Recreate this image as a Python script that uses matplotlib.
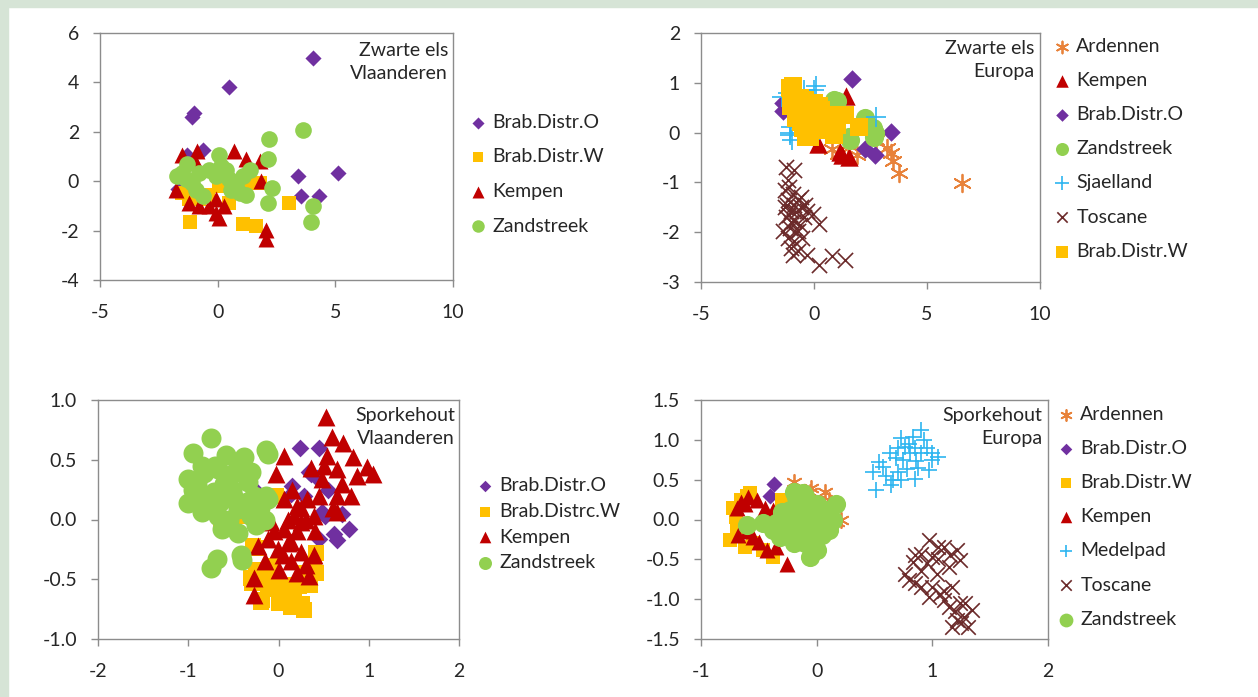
import matplotlib
matplotlib.use("Agg")
import matplotlib.pyplot as plt
from matplotlib.patches import Rectangle

# ---- data ----
# Zwarte els, Vlaanderen
zv_brabo_x = [4.07, 0.5, -1.0, -1.1, -0.64, -1.3, 3.43, 5.1, 3.53, 4.29, -1.7]
zv_brabo_y = [4.98, 3.83, 2.75, 2.6, 1.26, 1.05, 0.2, 0.34, -0.61, -0.6, -0.3]
zv_brabw_x = [-1.19, 1.07, 1.64, 3.04, 1.79, 0.07, -0.79, -1.21, 0.5, 1.36, -1.5, -0.43, 0.9]
zv_brabw_y = [-1.66, -1.72, -1.82, -0.9, -0.07, -0.2, -0.74, -0.74, -0.88, -0.07, -0.47, -0.54, -0.3]
zv_kempen_x = [0.71, -0.86, -1.5, 1.79, 1.86, 2.07, 2.07, -0.07, 0.07, -0.36, -0.79, -1.21, -0.07,
               1.21, -1.79, 0.29, -1.0]
zv_kempen_y = [1.22, 1.22, 1.08, 0.81, 0.0, -1.96, -2.36, -1.28, -1.5, -1.01, -1.01, -0.88, -0.74,
               0.88, -0.34, -1.01, 0.9]
zv_zand_x = [3.64, 2.19, 2.14, 2.29, 2.14, 4.04, 3.97, -1.71, -1.29, -1.36, -0.93, -0.64, -0.79,
             -0.36, 0.07, 0.14, -0.07, 0.5, 0.57, 0.93, 1.21, 1.36, 1.07, 0.79, -1.07, -1.5, 0.36]
zv_zand_y = [2.07, 1.72, 0.88, -0.27, -0.9, -1.01, -1.66, 0.2, 0.68, 0.07, -0.34, -0.61, 0.34,
             0.47, 1.08, 0.61, 0.2, 0.07, -0.34, -0.47, -0.54, 0.47, 0.2, -0.2, -0.07, 0.34, 0.47]

# Zwarte els, Europa
ze_arden_x = [6.57, 3.41, 3.5, 3.78, 3.23, 0.8, 1.91, 2.74, 1.08, 1.5]
ze_arden_y = [-1.02, -0.4, -0.58, -0.82, -0.3, -0.32, -0.45, -0.15, -0.42, -0.25]
ze_kempen_x = [1.42, 0.94, 0.17, 1.22, 1.56, 1.14]
ze_kempen_y = [0.73, 0.6, -0.23, -0.45, -0.49, -0.38]
ze_brabo_x = [1.66, 3.41, 2.26, 2.72, -1.35, 1.0, -1.35]
ze_brabo_y = [1.08, 0.02, -0.32, -0.45, 0.43, 0.6, 0.6]
ze_zand_x = [1.01, 1.56, 2.26, 2.6, 2.67, 0.88, 1.58, 2.71]
ze_zand_y = [0.63, -0.08, 0.29, 0.09, -0.08, 0.66, -0.15, -0.01]
ze_sjael_x = [0.1, -0.45, -1.15, 2.74, -1.08, -1.01, 0.24, -1.05, -0.96, 0.26, 0.0, -1.4, -0.2]
ze_sjael_y = [0.93, 0.86, 0.8, 0.32, -0.05, 0.12, 0.05, -0.01, -0.15, 0.09, 0.86, 0.72, 0.5]
ze_tosc_x = [-1.22, -0.87, -1.15, -1.28, -0.94, -1.15, -0.73, -1.28, -1.01, -0.59, -0.31, -0.03,
             -1.22, -0.87, -0.45, 0.24, -1.08, -0.73, -1.15, -0.87, -0.52, -1.01, -0.73, -0.31,
             0.24, 0.8, 1.36, -0.59, -1.35, -1.1, -0.9, -0.8, -1.0, -0.6, -1.2, -0.4, -0.8,
             -1.1, -0.95]
ze_tosc_y = [-0.69, -0.76, -0.96, -1.16, -1.23, -1.36, -1.36, -1.5, -1.57, -1.5, -1.57, -1.64,
             -1.7, -1.77, -1.7, -1.84, -1.91, -1.97, -2.11, -2.18, -2.11, -2.31, -2.38, -2.45,
             -2.65, -2.48, -2.55, -1.3, -1.97, -1.1, -1.45, -1.6, -1.8, -1.85, -1.45, -1.45,
             -2.0, -1.65, -2.45]
ze_brabw_x = [-0.94, -0.94, -0.73, -0.31, 0.24, 0.52, 0.94, 1.35, 1.98, 0.87, -0.17, -0.59, -1.0,
              -0.03, -1.05, -0.35, 1.31, 0.5, -0.6, -0.7, -0.4, 0.0, 0.3, 0.7, -0.8, -0.2, 0.2,
              1.0, -0.5]
ze_brabw_y = [0.93, 0.73, 0.46, 0.46, 0.53, 0.32, 0.36, 0.36, 0.12, -0.05, -0.08, 0.22, 0.53,
              0.26, 0.89, -0.08, 0.36, 0.05, 0.7, 0.7, 0.65, 0.6, 0.45, 0.2, 0.3, 0.3, 0.1,
              0.15, 0.1]

# Sporkehout, Vlaanderen
sv_brabo_x = [0.24, 0.45, 0.34, 0.43, -0.25, 0.15, 0.48, 0.78, 0.61, 0.28, 0.65, 0.45, 0.52, 0.14,
              0.36, 0.55, 0.7]
sv_brabo_y = [0.6, 0.6, 0.4, 0.35, 0.24, 0.28, 0.06, -0.08, -0.12, 0.2, -0.17, -0.16, 0.03, 0.21,
              0.38, 0.25, 0.05]
sv_brabw_x = [-0.64, -0.25, -0.25, -0.29, -0.18, 0.14, 0.28, 0.41, 0.41, -0.03, 0.06, 0.23, -0.07,
              -0.38, -0.03, -0.28, -0.3, -0.12, 0.03, 0.17, 0.26, 0.39, -0.19, -0.1, 0.1, 0.0,
              0.35, 0.3, -0.2]
sv_brabw_y = [-0.04, -0.24, -0.42, -0.53, -0.67, -0.73, -0.76, -0.45, -0.28, -0.5, -0.62, -0.56,
              -0.39, 0.03, 0.2, -0.22, -0.49, -0.58, -0.6, -0.69, -0.71, -0.38, -0.69, -0.55,
              -0.55, -0.7, -0.55, -0.45, -0.5]
sv_kempen_x = [0.53, 0.59, 0.06, -0.03, 0.36, 0.72, 0.83, 0.98, 1.05, 0.87, 0.54, 0.65, 0.48, 0.65,
               0.65, 0.45, 0.32, 0.21, 0.06, -0.08, 0.06, 0.25, 0.39, -0.12, -0.01, 0.14, 0.25,
               -0.23, 0.39, 0.3, 0.01, 0.34, -0.27, -0.27, 0.14, 0.17, 0.1, 0.2, 0.15, 0.3, 0.05,
               0.2, -0.05, 0.1, 0.5, 0.7, 0.6, 0.8, 0.4, -0.15, 0.25]
sv_kempen_y = [0.86, 0.69, 0.53, 0.38, 0.43, 0.64, 0.52, 0.44, 0.38, 0.36, 0.53, 0.42, 0.34, 0.2,
               0.06, 0.2, 0.17, 0.11, 0.17, -0.02, -0.08, -0.02, 0.03, -0.16, -0.25, -0.19, -0.27,
               -0.22, -0.3, -0.38, -0.42, -0.47, -0.49, -0.63, -0.35, 0.03, 0.0, -0.1, 0.25, 0.0,
               -0.3, -0.45, -0.1, -0.2, 0.45, 0.3, 0.1, 0.2, -0.1, -0.35, 0.1]
sv_zand_x = [-0.75, -0.95, -0.58, -0.38, -0.14, -1.0, -1.0, -0.95, -0.82, -0.67, -0.49, -0.34,
             -0.27, -0.14, -0.85, -0.71, -0.52, -0.85, -0.67, -0.45, -0.3, -0.63, -0.45, -0.23,
             -0.41, -0.68, -0.75, -0.12, -0.12, -0.4, -0.9, -0.8, -0.6, -0.5, -0.55, -0.35,
             -0.3, -0.2, -0.7, -0.45, -0.85, -0.65, -0.25, -0.15]
sv_zand_y = [0.68, 0.56, 0.54, 0.52, 0.58, 0.34, 0.14, 0.25, 0.39, 0.42, 0.39, 0.31, 0.2, 0.2,
             0.2, 0.23, 0.25, 0.06, 0.03, 0.09, 0.03, -0.08, -0.11, -0.02, -0.3, -0.33, -0.41,
             0.55, 0.17, -0.34, 0.3, 0.1, 0.3, 0.2, 0.0, 0.15, 0.4, 0.1, 0.45, 0.45, 0.45, 0.15,
             -0.05, 0.0]

# Sporkehout, Europa
se_arden_x = [-0.2, -0.05, 0.07, 0.11, 0.21, 0.14, -0.06, 0.04, 0.18]
se_arden_y = [0.47, 0.39, 0.35, 0.24, -0.01, 0.07, 0.35, 0.16, -0.03]
se_brabo_x = [-0.37, -0.4]
se_brabo_y = [0.44, 0.3]
se_brabw_x = [-0.65, -0.7, -0.75, -0.62, -0.46, -0.38, -0.3, -0.58, -0.69, -0.72, -0.55, -0.6]
se_brabw_y = [0.24, 0.03, -0.26, -0.34, -0.38, -0.47, 0.24, 0.33, -0.09, 0.15, -0.3, 0.3]
se_kempen_x = [-0.65, -0.59, -0.52, -0.69, -0.45, -0.68, -0.55, -0.43, -0.35, -0.26, -0.38, -0.62,
               -0.5, -0.6]
se_kempen_y = [0.22, 0.28, 0.24, 0.14, 0.14, -0.2, -0.22, -0.38, -0.34, -0.56, 0.12, 0.2, -0.28,
               -0.15]
se_medel_x = [0.51, 0.49, 0.57, 0.66, 0.69, 0.76, 0.83, 0.81, 0.93, 0.9, 1.0, 1.05, 0.78, 0.85,
              0.97, 0.73, 0.64, 0.54, 0.63, 0.73, 0.9, 0.86, 0.7, 0.8, 0.75, 0.85, 0.95, 0.6, 0.7,
              0.88, 1.0]
se_medel_y = [0.37, 0.6, 0.66, 0.49, 0.77, 0.91, 1.04, 0.83, 1.0, 0.83, 0.83, 0.79, 0.64, 0.51,
              0.62, 0.49, 0.43, 0.72, 0.83, 1.02, 1.12, 0.74, 0.9, 0.95, 0.75, 0.9, 0.9, 0.55, 0.6,
              0.65, 0.75]
se_tosc_x = [0.97, 0.9, 0.83, 1.0, 1.1, 1.21, 1.24, 1.14, 1.04, 0.8, 0.9, 0.97, 1.07, 1.17, 1.14,
             1.24, 1.34, 1.21, 1.31, 1.17, 1.27, 1.1, 0.76, 0.85, 0.95, 1.05, 1.15, 0.9, 1.0, 1.1,
             1.2, 1.28, 1.25, 0.85, 1.05]
se_tosc_y = [-0.26, -0.43, -0.53, -0.47, -0.34, -0.38, -0.51, -0.59, -0.68, -0.76, -0.85, -0.97,
             -0.93, -0.85, -1.1, -1.05, -1.14, -1.26, -1.35, -1.35, -1.22, -1.01, -0.68, -0.45,
             -0.55, -0.5, -0.45, -0.65, -0.85, -0.9, -1.15, -1.05, -1.3, -0.8, -0.35]
se_zand_x = [0.17, -0.6, -0.46, -0.32, -0.18, -0.12, -0.03, -0.23, -0.09, 0.05, 0.11, 0.08, -0.32,
             -0.2, -0.06, 0.0, -0.12, -0.26, -0.03, -0.18, -0.38, 0.14, -0.3, -0.25, -0.15, -0.05,
             0.0, 0.05, -0.1, -0.15, -0.35, -0.2, 0.1, -0.05, 0.0, 0.05, -0.1, -0.2]
se_zand_y = [0.2, -0.07, -0.05, -0.01, 0.28, 0.33, 0.2, 0.12, -0.01, -0.01, -0.13, 0.12, -0.22,
             -0.3, -0.47, -0.38, -0.22, -0.09, -0.13, -0.01, -0.13, -0.01, 0.1, -0.15, 0.05, 0.05,
             0.2, -0.2, -0.3, 0.2, -0.05, -0.1, 0.1, -0.25, -0.05, 0.05, 0.3, 0.35]

# ---- styling ----
W, H = 1258, 697
PURPLE = "#7030a0"
YELLOW = "#ffc000"
RED = "#c00000"
GREEN = "#92d050"
ORANGE = "#e8823a"
BLUE = "#2eb5f0"
BROWN = "#6b2a2a"
AXCOL = "#8c8c8c"
TXT = "#262626"

plt.rcParams["font.family"] = ["Lato", "DejaVu Sans"]
plt.rcParams["axes.unicode_minus"] = False

# marker, size in points, colour, line width
STYLE = {
    "brabo": ("D", 8.2, PURPLE, 0),
    "brabw": ("s", 10.2, YELLOW, 0),
    "kempen": ("^", 11.5, RED, 0),
    "zand": ("o", 12, GREEN, 0),
    "arden": ((6, 2, 0), 11, ORANGE, 1.3),
    "plus": ("+", 12, BLUE, 1.2),
    "tosc": ("x", 9.5, BROWN, 1.2),
}


def fx(px):
    return px / W


def fy(py):
    return 1 - py / H


fig = plt.figure(figsize=(W / 100, H / 100), dpi=100, facecolor="white")

# light green frame at top and left
fig.patches.append(Rectangle((0, fy(7)), 1, 7 / H, transform=fig.transFigure,
                             color="#d6e4d6", zorder=0))
fig.patches.append(Rectangle((0, 0), 8 / W, 1, transform=fig.transFigure,
                             color="#d6e4d6", zorder=0))


def make_axes(l, r, t, b, xlim, ylim, xticks, yticks, yfmt):
    ax = fig.add_axes([fx(l), fy(b), fx(r - l), (b - t) / H])
    ax.set_xlim(xlim)
    ax.set_ylim(ylim)
    ax.set_xticks(xticks)
    ax.set_yticks(yticks)
    ax.set_yticklabels([yfmt.format(v) for v in yticks])
    for sp in ax.spines.values():
        sp.set_color(AXCOL)
        sp.set_linewidth(1.0)
    ax.tick_params(axis="both", direction="out", length=5, width=1.0, color=AXCOL,
                   labelsize=14, labelcolor=TXT)
    ax.tick_params(axis="y", pad=10)
    ax.tick_params(axis="x", pad=12)
    return ax


def dots(ax, x, y, kind, scale=1.0):
    m, size, col, lw = STYLE[kind]
    return ax.scatter(x, y, marker=m, s=(size * scale) ** 2, c=col, linewidths=lw)


def add_legend(ax, handles, labels, px, py, spacing, mscale=0.75):
    ax.legend(handles, labels, loc="upper left",
              bbox_to_anchor=(fx(px), fy(py)), bbox_transform=fig.transFigure,
              frameon=False, fontsize=14, labelspacing=spacing, borderpad=0,
              handlelength=0.8, handletextpad=0.35, markerscale=mscale,
              borderaxespad=0, labelcolor=TXT)


# ---- panel 1: Zwarte els Vlaanderen ----
ax1 = make_axes(100, 453, 33, 280, (-5, 10), (-4, 6), [-5, 0, 5, 10], [-4, -2, 0, 2, 4, 6], "{:g}")
h = [dots(ax1, zv_brabo_x, zv_brabo_y, "brabo"),
     dots(ax1, zv_brabw_x, zv_brabw_y, "brabw"),
     dots(ax1, zv_kempen_x, zv_kempen_y, "kempen"),
     dots(ax1, zv_zand_x, zv_zand_y, "zand")]
add_legend(ax1, h, ["Brab.Distr.O", "Brab.Distr.W", "Kempen", "Zandstreek"], 470, 114, 0.9)
fig.text(fx(448), fy(42), "Zwarte els\nVlaanderen", ha="right", va="top",
         fontsize=14, color=TXT, linespacing=1.45)

# ---- panel 2: Zwarte els Europa ----
ax2 = make_axes(701, 1040, 33, 282, (-5, 10), (-3, 2), [-5, 0, 5, 10], [-3, -2, -1, 0, 1, 2], "{:g}")
k = 1.15
h = [dots(ax2, ze_arden_x, ze_arden_y, "arden", k),
     dots(ax2, ze_kempen_x, ze_kempen_y, "kempen", k),
     dots(ax2, ze_brabo_x, ze_brabo_y, "brabo", k),
     dots(ax2, ze_zand_x, ze_zand_y, "zand", k),
     dots(ax2, ze_sjael_x, ze_sjael_y, "plus", k),
     dots(ax2, ze_tosc_x, ze_tosc_y, "tosc", k),
     dots(ax2, ze_brabw_x, ze_brabw_y, "brabw", 1.3)]
add_legend(ax2, h, ["Ardennen", "Kempen", "Brab.Distr.O", "Zandstreek", "Sjaelland",
                    "Toscane", "Brab.Distr.W"], 1054, 38, 0.88, 0.68)
fig.text(fx(1034), fy(40), "Zwarte els\nEuropa", ha="right", va="top",
         fontsize=14, color=TXT, linespacing=1.45)

# ---- panel 3: Sporkehout Vlaanderen ----
ax3 = make_axes(98, 459, 400, 639, (-2, 2), (-1, 1), [-2, -1, 0, 1, 2],
                [-1.0, -0.5, 0.0, 0.5, 1.0], "{:.1f}")
h = [dots(ax3, sv_brabo_x, sv_brabo_y, "brabo", 1.1),
     dots(ax3, sv_brabw_x, sv_brabw_y, "brabw", 1.15),
     dots(ax3, sv_kempen_x, sv_kempen_y, "kempen", 1.12),
     dots(ax3, sv_zand_x, sv_zand_y, "zand", 1.2)]
add_legend(ax3, h, ["Brab.Distr.O", "Brab.Distrc.W", "Kempen", "Zandstreek"], 477, 477, 0.45, 0.65)
fig.text(fx(455), fy(407), "Sporkehout\nVlaanderen", ha="right", va="top",
         fontsize=14, color=TXT, linespacing=1.45)

# ---- panel 4: Sporkehout Europa ----
ax4 = make_axes(701, 1048, 400, 639, (-1, 2), (-1.5, 1.5), [-1, 0, 1, 2],
                [-1.5, -1.0, -0.5, 0.0, 0.5, 1.0, 1.5], "{:.1f}")
h = [dots(ax4, se_arden_x, se_arden_y, "arden"),
     dots(ax4, se_brabo_x, se_brabo_y, "brabo"),
     dots(ax4, se_brabw_x, se_brabw_y, "brabw"),
     dots(ax4, se_kempen_x, se_kempen_y, "kempen"),
     dots(ax4, se_medel_x, se_medel_y, "plus"),
     dots(ax4, se_tosc_x, se_tosc_y, "tosc", 1.1),
     dots(ax4, se_zand_x, se_zand_y, "zand", 1.15)]
add_legend(ax4, h, ["Ardennen", "Brab.Distr.O", "Brab.Distr.W", "Kempen", "Medelpad",
                    "Toscane", "Zandstreek"], 1058, 406, 0.88, 0.72)
fig.text(fx(1042), fy(407), "Sporkehout\nEuropa", ha="right", va="top",
         fontsize=14, color=TXT, linespacing=1.45)

fig.savefig("out.png", dpi=100, facecolor="white")
